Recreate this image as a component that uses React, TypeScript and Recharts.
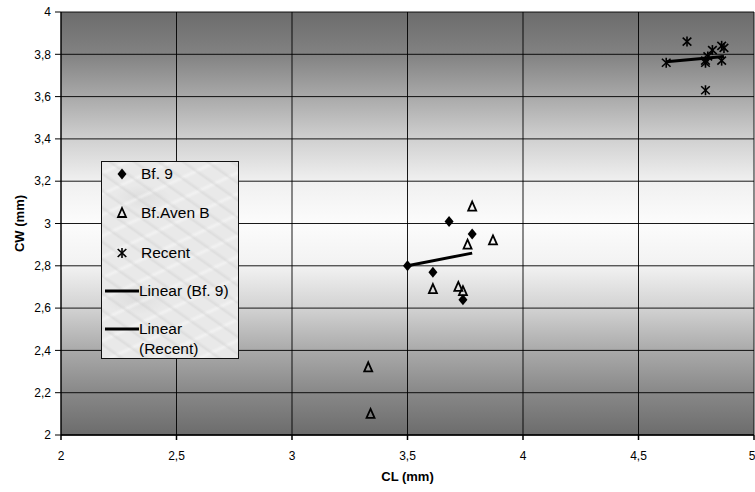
import React from 'react';
import { ScatterChart, Scatter, XAxis, YAxis, CartesianGrid, Legend } from 'recharts';

const bf9 = [
  { x: 3.5, y: 2.8 },
  { x: 3.68, y: 3.01 },
  { x: 3.78, y: 2.95 },
  { x: 3.61, y: 2.77 },
  { x: 3.74, y: 2.64 },
];

const avenB = [
  { x: 3.78, y: 3.08 },
  { x: 3.87, y: 2.92 },
  { x: 3.76, y: 2.9 },
  { x: 3.61, y: 2.69 },
  { x: 3.72, y: 2.7 },
  { x: 3.74, y: 2.68 },
  { x: 3.33, y: 2.32 },
  { x: 3.34, y: 2.1 },
];

const recent = [
  { x: 4.71, y: 3.86 },
  { x: 4.62, y: 3.76 },
  { x: 4.79, y: 3.77 },
  { x: 4.79, y: 3.76 },
  { x: 4.8, y: 3.79 },
  { x: 4.82, y: 3.82 },
  { x: 4.86, y: 3.84 },
  { x: 4.87, y: 3.83 },
  { x: 4.86, y: 3.77 },
  { x: 4.79, y: 3.63 },
];

const trendBf9 = [
  { x: 3.5, y: 2.8 },
  { x: 3.78, y: 2.86 },
];

const trendRecent = [
  { x: 4.62, y: 3.765 },
  { x: 4.87, y: 3.79 },
];

const xTicks = [2, 2.5, 3, 3.5, 4, 4.5, 5];
const yTicks = [2, 2.2, 2.4, 2.6, 2.8, 3, 3.2, 3.4, 3.6, 3.8, 4];

const legendItems = [
  { label: 'Bf. 9', kind: 'diamond' },
  { label: 'Bf.Aven B', kind: 'triangle' },
  { label: 'Recent', kind: 'star' },
  { label: 'Linear (Bf. 9)', kind: 'line' },
  { label: 'Linear (Recent)', kind: 'line' },
];

const FONT = '"Liberation Sans", Arial, sans-serif';
const fmt = (v: number) => String(v).replace('.', ',');

const Diamond = (p: any) => {
  const { cx, cy } = p;
  if (cx == null || cy == null) return <g />;
  return <polygon points={`${cx},${cy - 5.5} ${cx + 4.5},${cy} ${cx},${cy + 5.5} ${cx - 4.5},${cy}`} fill="#000" />;
};

const Triangle = (p: any) => {
  const { cx, cy } = p;
  if (cx == null || cy == null) return <g />;
  return (
    <polygon
      points={`${cx},${cy - 5} ${cx + 4},${cy + 4} ${cx - 4},${cy + 4}`}
      fill="none"
      stroke="#000"
      strokeWidth={1.8}
      strokeLinejoin="miter"
    />
  );
};

const Star = (p: any) => {
  const { cx, cy } = p;
  if (cx == null || cy == null) return <g />;
  const r = 5;
  return (
    <g stroke="#000" strokeWidth={1.6}>
      <line x1={cx} y1={cy - r} x2={cx} y2={cy + r} />
      <line x1={cx - 4.3} y1={cy - 4} x2={cx + 4.3} y2={cy + 4} />
      <line x1={cx - 4.3} y1={cy + 4} x2={cx + 4.3} y2={cy - 4} />
    </g>
  );
};

const NoShape = () => <g />;

const LegendIcon = ({ kind }: { kind: string }) => {
  if (kind === 'line') {
    return (
      <svg width={34} height={10} style={{ display: 'block' }}>
        <line x1={0} y1={5} x2={34} y2={5} stroke="#000" strokeWidth={3} />
      </svg>
    );
  }
  return (
    <svg width={14} height={14} style={{ display: 'block' }}>
      {kind === 'diamond' && <Diamond cx={7} cy={7} />}
      {kind === 'triangle' && <Triangle cx={7} cy={7} />}
      {kind === 'star' && <Star cx={7} cy={7} />}
    </svg>
  );
};

const renderLegend = () => (
  <div
    style={{
      width: 138,
      height: 198,
      boxSizing: 'border-box',
      border: '1px solid #111',
      backgroundColor: '#e9e9e9',
      backgroundImage:
        'repeating-linear-gradient(35deg, rgba(255,255,255,0) 0px, rgba(255,255,255,0) 9px, rgba(200,200,200,0.35) 11px, rgba(255,255,255,0) 14px),' +
        'repeating-linear-gradient(-25deg, rgba(255,255,255,0) 0px, rgba(255,255,255,0) 13px, rgba(250,250,250,0.5) 16px, rgba(255,255,255,0) 19px),' +
        'radial-gradient(ellipse 40px 18px at 30% 18%, rgba(190,190,190,0.25), transparent 70%),' +
        'radial-gradient(ellipse 45px 22px at 25% 70%, rgba(190,190,190,0.25), transparent 70%)',
      position: 'relative',
      fontFamily: FONT,
      fontSize: 15.5,
      color: '#000',
    }}
  >
    {legendItems.map((it, i) => {
      const top = [12, 51, 91, 129, 167][i];
      const isLine = it.kind === 'line';
      return (
        <div key={it.label}>
          <div
            style={{
              position: 'absolute',
              left: isLine ? 3 : 13,
              top: top - (isLine ? 5 : 7),
            }}
          >
            <LegendIcon kind={it.kind} />
          </div>
          {i === 4 ? (
            <>
              <div style={{ position: 'absolute', left: 37, top: top - 9, lineHeight: '18px', whiteSpace: 'nowrap' }}>Linear</div>
              <div style={{ position: 'absolute', left: 37, top: top + 11, lineHeight: '18px', whiteSpace: 'nowrap' }}>(Recent)</div>
            </>
          ) : (
            <div
              style={{ position: 'absolute', left: isLine ? 37 : 39, top: top - 9, lineHeight: '18px', whiteSpace: 'nowrap' }}
            >
              {it.label}
            </div>
          )}
        </div>
      );
    })}
  </div>
);

const YTitle = (props: any) => {
  const vb = props.viewBox || {};
  const x = (vb.x ?? 0) + 19;
  const y = (vb.y ?? 0) + (vb.height ?? 0) / 2;
  return (
    <text
      x={x}
      y={y}
      transform={`rotate(-90 ${x} ${y})`}
      textAnchor="middle"
      dominantBaseline="central"
      fontFamily={FONT}
      fontSize={13}
      fontWeight="bold"
      fill="#000"
    >
      CW (mm)
    </text>
  );
};

const XTitle = (props: any) => {
  const vb = props.viewBox || {};
  const x = (vb.x ?? 0) + (vb.width ?? 0) / 2;
  const y = (vb.y ?? 0) + 41;
  return (
    <text x={x} y={y} textAnchor="middle" dominantBaseline="central" fontFamily={FONT} fontSize={13} fontWeight="bold" fill="#000">
      CL (mm)
    </text>
  );
};

export default function App() {
  return (
    <div style={{ position: 'absolute', left: 0, top: 0, width: 755, height: 492, background: '#fff' }}>
      <ScatterChart width={755} height={492} margin={{ top: 12, right: 1, bottom: 0, left: 0 }}>
        <defs>
          <linearGradient id="bgGrad" x1="0" y1="0" x2="0" y2="1">
            <stop offset="0" stopColor="#6c6c6c" />
            <stop offset="0.1" stopColor="#828282" />
            <stop offset="0.2" stopColor="#a9a9a9" />
            <stop offset="0.3" stopColor="#d0d0d0" />
            <stop offset="0.4" stopColor="#f0f0f0" />
            <stop offset="0.5" stopColor="#fcfcfc" />
            <stop offset="0.6" stopColor="#f2f2f2" />
            <stop offset="0.7" stopColor="#d2d2d2" />
            <stop offset="0.8" stopColor="#aaaaaa" />
            <stop offset="0.9" stopColor="#888888" />
            <stop offset="1" stopColor="#6c6c6c" />
          </linearGradient>
        </defs>
        <CartesianGrid fill="url(#bgGrad)" fillOpacity={1} stroke="#000" strokeWidth={1} strokeOpacity={0.9} />
        <XAxis
          type="number"
          dataKey="x"
          domain={[2, 5]}
          ticks={xTicks}
          tickFormatter={fmt}
          height={57}
          tickSize={5}
          tickMargin={11}
          stroke="#000"
          strokeWidth={1.5}
          tick={{ fontFamily: FONT, fontSize: 12, fill: '#000' }}
          allowDataOverflow
          label={<XTitle />}
        />
        <YAxis
          type="number"
          dataKey="y"
          domain={[2, 4]}
          ticks={yTicks}
          tickFormatter={fmt}
          width={61}
          tickSize={6}
          tickMargin={4}
          stroke="#000"
          tick={{ fontFamily: FONT, fontSize: 12, fill: '#000' }}
          allowDataOverflow
          label={<YTitle />}
        />
        <Legend
          layout="vertical"
          align="center"
          verticalAlign="middle"
          content={renderLegend}
          wrapperStyle={{ left: 101, top: 161, width: 138, height: 198 }}
        />
        <Scatter name="Bf.Aven B" data={avenB} shape={Triangle} isAnimationActive={false} />
        <Scatter name="Recent" data={recent} shape={Star} isAnimationActive={false} />
        <Scatter name="Bf. 9" data={bf9} shape={Diamond} isAnimationActive={false} />
        <Scatter
          name="Linear (Bf. 9)"
          data={trendBf9}
          shape={NoShape}
          line={{ stroke: '#000', strokeWidth: 3 }}
          isAnimationActive={false}
        />
        <Scatter
          name="Linear (Recent)"
          data={trendRecent}
          shape={NoShape}
          line={{ stroke: '#000', strokeWidth: 3 }}
          isAnimationActive={false}
        />
      </ScatterChart>
    </div>
  );
}
